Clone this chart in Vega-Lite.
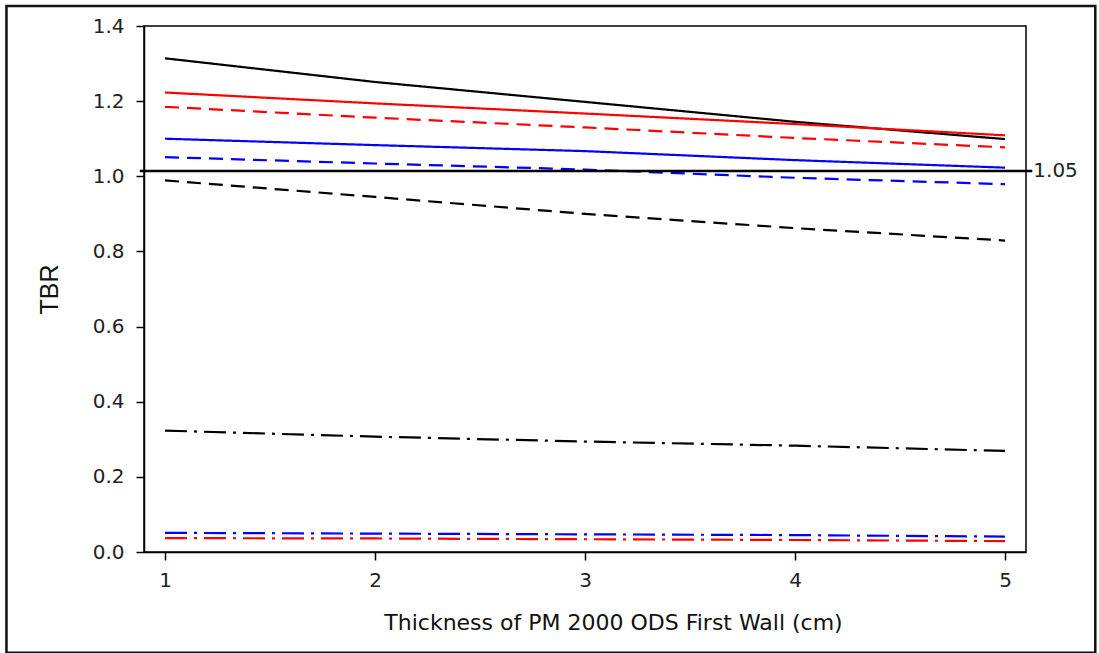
{
  "$schema": "https://vega.github.io/schema/vega-lite/v6.json",
  "width": 882,
  "height": 526,
  "autosize": {"type": "none"},
  "padding": {"left": 144, "top": 26, "right": 73, "bottom": 101},
  "background": "white",
  "config": {
    "view": {"stroke": "#000", "strokeWidth": 1.5},
    "font": "DejaVu Sans",
    "axis": {"grid": false, "domainColor": "#000", "tickColor": "#000", "labelColor": "#222", "titleColor": "#111", "labelFont": "DejaVu Sans", "titleFont": "DejaVu Sans", "titleFontWeight": "normal"}
  },
  "datasets": {
    "lines": [
      {"series": "A", "c": "black", "s": "solid", "x": 1, "y": 1.314},
      {"series": "A", "c": "black", "s": "solid", "x": 2, "y": 1.251},
      {"series": "A", "c": "black", "s": "solid", "x": 3, "y": 1.198},
      {"series": "A", "c": "black", "s": "solid", "x": 4, "y": 1.145},
      {"series": "A", "c": "black", "s": "solid", "x": 5, "y": 1.099},
      {"series": "B", "c": "red", "s": "solid", "x": 1, "y": 1.223},
      {"series": "B", "c": "red", "s": "solid", "x": 2, "y": 1.194},
      {"series": "B", "c": "red", "s": "solid", "x": 3, "y": 1.167},
      {"series": "B", "c": "red", "s": "solid", "x": 4, "y": 1.139},
      {"series": "B", "c": "red", "s": "solid", "x": 5, "y": 1.109},
      {"series": "C", "c": "red", "s": "dash", "x": 1, "y": 1.185},
      {"series": "C", "c": "red", "s": "dash", "x": 2, "y": 1.156},
      {"series": "C", "c": "red", "s": "dash", "x": 3, "y": 1.130},
      {"series": "C", "c": "red", "s": "dash", "x": 4, "y": 1.102},
      {"series": "C", "c": "red", "s": "dash", "x": 5, "y": 1.077},
      {"series": "D", "c": "blue", "s": "solid", "x": 1, "y": 1.100},
      {"series": "D", "c": "blue", "s": "solid", "x": 2, "y": 1.083},
      {"series": "D", "c": "blue", "s": "solid", "x": 3, "y": 1.067},
      {"series": "D", "c": "blue", "s": "solid", "x": 4, "y": 1.043},
      {"series": "D", "c": "blue", "s": "solid", "x": 5, "y": 1.023},
      {"series": "E", "c": "blue", "s": "dash", "x": 1, "y": 1.051},
      {"series": "E", "c": "blue", "s": "dash", "x": 2, "y": 1.034},
      {"series": "E", "c": "blue", "s": "dash", "x": 3, "y": 1.018},
      {"series": "E", "c": "blue", "s": "dash", "x": 4, "y": 0.996},
      {"series": "E", "c": "blue", "s": "dash", "x": 5, "y": 0.979},
      {"series": "F", "c": "black", "s": "dash", "x": 1, "y": 0.989},
      {"series": "F", "c": "black", "s": "dash", "x": 2, "y": 0.945},
      {"series": "F", "c": "black", "s": "dash", "x": 3, "y": 0.900},
      {"series": "F", "c": "black", "s": "dash", "x": 4, "y": 0.862},
      {"series": "F", "c": "black", "s": "dash", "x": 5, "y": 0.829},
      {"series": "G", "c": "black", "s": "dashdot", "x": 1, "y": 0.323},
      {"series": "G", "c": "black", "s": "dashdot", "x": 2, "y": 0.307},
      {"series": "G", "c": "black", "s": "dashdot", "x": 3, "y": 0.294},
      {"series": "G", "c": "black", "s": "dashdot", "x": 4, "y": 0.283},
      {"series": "G", "c": "black", "s": "dashdot", "x": 5, "y": 0.269},
      {"series": "H", "c": "blue", "s": "dashdot", "x": 1, "y": 0.051},
      {"series": "H", "c": "blue", "s": "dashdot", "x": 2, "y": 0.049},
      {"series": "H", "c": "blue", "s": "dashdot", "x": 3, "y": 0.047},
      {"series": "H", "c": "blue", "s": "dashdot", "x": 4, "y": 0.045},
      {"series": "H", "c": "blue", "s": "dashdot", "x": 5, "y": 0.041},
      {"series": "I", "c": "red", "s": "dashdot", "x": 1, "y": 0.037},
      {"series": "I", "c": "red", "s": "dashdot", "x": 2, "y": 0.036},
      {"series": "I", "c": "red", "s": "dashdot", "x": 3, "y": 0.034},
      {"series": "I", "c": "red", "s": "dashdot", "x": 4, "y": 0.032},
      {"series": "I", "c": "red", "s": "dashdot", "x": 5, "y": 0.029}
    ],
    "ref": [{"y": 1.014, "x1": 0.88, "x2": 5.13, "label": "1.05"}],
    "frame": [{"x1": 0.245, "x2": 5.43, "y1": -0.268, "y2": 1.453}]
  },
  "layer": [
    {
      "data": {"name": "frame"},
      "mark": {"type": "rect", "fill": null, "stroke": "#111", "strokeWidth": 2.5, "clip": false},
      "encoding": {
        "x": {"field": "x1", "type": "quantitative", "scale": {"domain": [0.9, 5.1], "nice": false, "zero": false}},
        "x2": {"field": "x2"},
        "y": {"field": "y1", "type": "quantitative", "scale": {"domain": [0, 1.4], "nice": false}},
        "y2": {"field": "y2"}
      }
    },
    {
      "data": {"name": "lines"},
      "mark": {"type": "line", "strokeWidth": 2.2},
      "encoding": {
        "x": {
          "field": "x", "type": "quantitative",
          "scale": {"domain": [0.9, 5.1], "nice": false, "zero": false},
          "axis": {"title": "Thickness of PM 2000 ODS First Wall (cm)", "values": [1, 2, 3, 4, 5], "format": "d", "tickSize": 8, "tickWidth": 1.5, "domainWidth": 1.5, "labelFontSize": 20, "labelPadding": 10, "titleFontSize": 22, "titlePadding": 22, "titleX": 469, "titleAlign": "center"}
        },
        "y": {
          "field": "y", "type": "quantitative",
          "scale": {"domain": [0, 1.4], "nice": false},
          "axis": {"title": "TBR", "titleFont": "Liberation Sans", "values": [0, 0.2, 0.4, 0.6, 0.8, 1.0, 1.2, 1.4], "format": ".1f", "tickSize": 8, "tickWidth": 1.5, "domainWidth": 1.5, "labelFontSize": 20, "labelPadding": 12, "titleFontSize": 25, "titlePadding": 30}
        },
        "color": {"field": "c", "type": "nominal", "scale": {"domain": ["black", "red", "blue"], "range": ["#000000", "#ff0000", "#0000ff"]}, "legend": null},
        "strokeDash": {"field": "s", "type": "nominal", "scale": {"domain": ["solid", "dash", "dashdot"], "range": [[1, 0], [14, 8], [22, 7, 3, 7]]}, "legend": null},
        "detail": {"field": "series"}
      }
    },
    {
      "data": {"name": "ref"},
      "mark": {"type": "rule", "color": "#000", "strokeWidth": 2.5, "clip": false},
      "encoding": {
        "x": {"field": "x1", "type": "quantitative"},
        "x2": {"field": "x2"},
        "y": {"field": "y", "type": "quantitative"}
      }
    },
    {
      "data": {"name": "ref"},
      "mark": {"type": "text", "align": "left", "baseline": "middle", "fontSize": 20, "color": "#222", "dx": 1, "clip": false},
      "encoding": {
        "x": {"field": "x2", "type": "quantitative"},
        "y": {"field": "y", "type": "quantitative"},
        "text": {"field": "label"}
      }
    }
  ]
}
